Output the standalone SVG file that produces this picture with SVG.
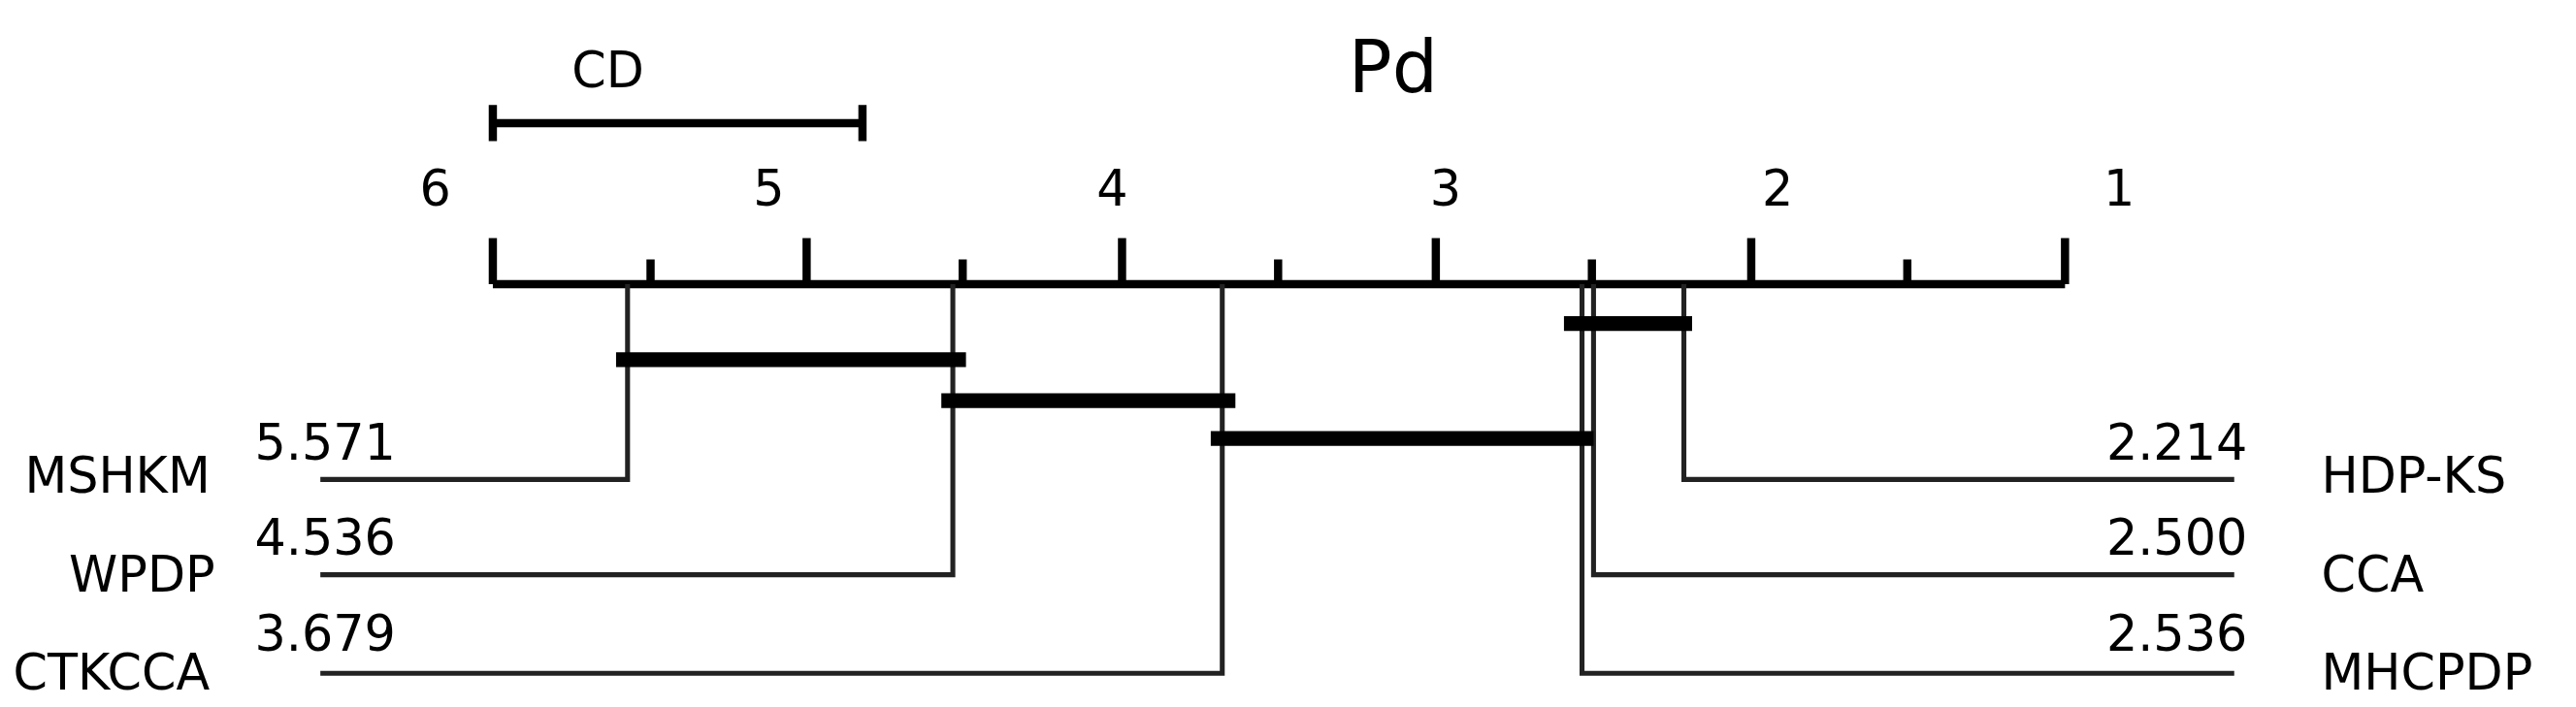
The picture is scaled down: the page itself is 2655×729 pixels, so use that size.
<svg xmlns="http://www.w3.org/2000/svg" width="2655" height="729" viewBox="0 0 2655 729">
<style>
text{font-family:"DejaVu Sans",sans-serif;fill:#000}
.t{font-size:30px}
.ln{stroke:#222;stroke-width:3;fill:none}
.ax{stroke:#000;stroke-width:5;fill:none}
.cl{stroke:#000;stroke-width:9}
</style>
<rect width="2655" height="729" fill="#fff"/>
<g transform="scale(1.6932)">
<text x="848" y="56" font-size="44" text-anchor="middle">Pd</text>
<g id="cd">
<path class="ax" d="M300 75H525M300 64V86M525 64V86"/>
<text class="t" x="370" y="53" text-anchor="middle">CD</text>
</g>
<g id="axis">
<path class="ax" d="M300 173H1257M300 145V173M491 145V173M683 145V173M874 145V173M1066 145V173M1257 145V173M396 158V173M586 158V173M778 158V173M969 158V173M1161 158V173"/>
<g class="t" text-anchor="middle">
<text x="265" y="125">6</text><text x="468" y="125">5</text><text x="677" y="125">4</text><text x="880" y="125">3</text><text x="1082" y="125">2</text><text x="1290" y="125">1</text>
</g>
</g>
<g id="connectors">
<path class="ln" d="M382 173V292H195M580 173V350H195M744 173V410H195M1025 173V292H1360M970 173V350H1360M963 173V410H1360"/>
<path class="cl" d="M375 219H588M573 244H752M737 267H970M952 197H1030"/>
</g>
<g id="MSHKM" class="t"><text x="15" y="300">MSHKM</text><text x="155" y="280">5.571</text></g>
<g id="WPDP" class="t"><text x="42" y="360">WPDP</text><text x="155" y="338">4.536</text></g>
<g id="CTKCCA" class="t"><text x="8" y="420">CTKCCA</text><text x="155" y="396">3.679</text></g>
<g id="HDP-KS" class="t"><text x="1413" y="300">HDP-KS</text><text x="1368" y="280" text-anchor="end">2.214</text></g>
<g id="CCA" class="t"><text x="1413" y="360">CCA</text><text x="1368" y="338" text-anchor="end">2.500</text></g>
<g id="MHCPDP" class="t"><text x="1413" y="420">MHCPDP</text><text x="1368" y="396" text-anchor="end">2.536</text></g>
</g>
</svg>
